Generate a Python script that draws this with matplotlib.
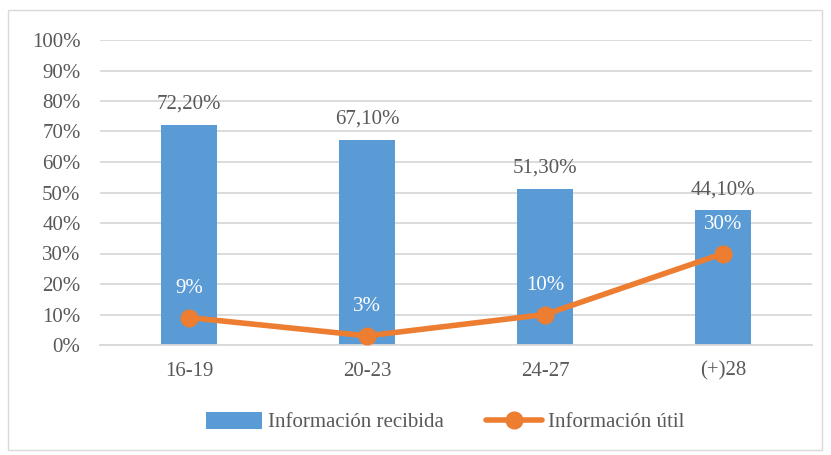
import matplotlib
matplotlib.use("Agg")
import matplotlib.pyplot as plt
from matplotlib.patches import Rectangle

categories = ["16-19", "20-23", "24-27", "(+)28"]
recibida = [72.2, 67.1, 51.3, 44.1]
util = [9, 3, 10, 30]
recibida_labels = ["72,20%", "67,10%", "51,30%", "44,10%"]
util_labels = ["9%", "3%", "10%", "30%"]
yticks = list(range(0, 101, 10))

plt.rcParams['font.family'] = ['Liberation Serif', 'DejaVu Serif']
W, H = 831, 455
fig = plt.figure(figsize=(W/100, H/100), dpi=100)
ax = fig.add_axes([100/W, 1-345/H, 712/W, 305/H])

x = list(range(len(categories)))
blue = "#5B9BD5"
orange = "#ED7D31"
text_c = "#595959"
fs = 15

bars = ax.bar(x, recibida, width=0.315, color=blue, zorder=2, label="Información recibida")
line, = ax.plot(x, util, color=orange, lw=4, marker="o", ms=12, zorder=3, label="Información útil",
                solid_capstyle="round")

for xi, v, lab in zip(x, recibida, recibida_labels):
    ax.annotate(lab, (xi, v), xytext=(0, 15), textcoords="offset points", ha="center", va="center",
                fontsize=fs, color=text_c)
for xi, v, lab in zip(x, util, util_labels):
    ax.annotate(lab, (xi, v), xytext=(0, 21), textcoords="offset points", ha="center", va="center",
                fontsize=fs, color="white", zorder=4)

ax.set_xlim(-0.5, len(categories) - 0.5)
ax.set_ylim(0, 100)
ax.set_yticks(yticks)
ax.set_yticklabels([f"{t}%" for t in yticks])
ax.set_xticks(x)
ax.set_xticklabels(categories)
ax.tick_params(axis="both", length=0, labelsize=fs, labelcolor=text_c)
ax.tick_params(axis="y", pad=14)
ax.tick_params(axis="x", pad=12)
ax.grid(axis="y", color="#D9D9D9", lw=1.3, zorder=0)
for s in ["top", "right", "left"]:
    ax.spines[s].set_visible(False)
ax.spines["bottom"].set_color("#D9D9D9")
ax.spines["bottom"].set_linewidth(1.3)

leg = fig.legend([bars, line], ["Información recibida", "Información útil"],
                 loc="center", bbox_to_anchor=(445/W, 1-422/H), ncol=2, frameon=False,
                 fontsize=fs, labelcolor=text_c, handlelength=2.7, handleheight=0.9,
                 columnspacing=2.0, handletextpad=0.3)

fig.patches.append(Rectangle((8/W, 1-450/H), 814/W, 440/H, transform=fig.transFigure,
                             fill=False, edgecolor="#D9D9D9", lw=1))

fig.savefig("out.png", dpi=100)
